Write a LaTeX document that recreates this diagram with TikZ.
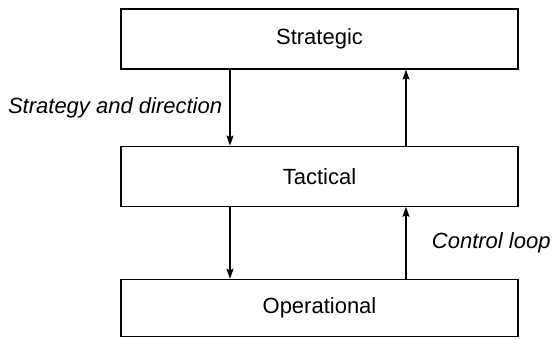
\documentclass[tikz,border=0pt]{standalone}
\usepackage{fontspec}
\setmainfont{Liberation Sans}
\usetikzlibrary{positioning, arrows.meta}

\begin{document}
\begin{tikzpicture}[x=1pt, y=-1pt,
    level/.style={draw, rectangle, line width=1.2pt, minimum width=397pt, minimum height=60pt, inner sep=0pt, font=\fontsize{22}{26}\selectfont},
    lab/.style={font=\fontsize{22}{26}\selectfont\itshape}]
  \useasboundingbox (0,0) rectangle (553,338);
  \node[level] (strategic) at (319.5,39) {Strategic};
  \node[level, below = 76pt of strategic] (tactical) {Tactical};
  \node[level, minimum height=57pt, below = 72pt of tactical] (operational) {Operational};

  \coordinate (down) at (230,0);
  \coordinate (up) at (406,0);

  \path[-{Stealth[length=10pt, width=7pt, inset=1.5pt]}, line width=1.2pt]
    (strategic.south -| down) edge node[lab, left=4pt]{Strategy and direction} (tactical.north -| down)
    (tactical.north -| up) edge (strategic.south -| up)
    (tactical.south -| down) edge (operational.north -| down)
    (operational.north -| up) edge node[lab, right=22pt]{Control loop} (tactical.south -| up);
\end{tikzpicture}
\end{document}
